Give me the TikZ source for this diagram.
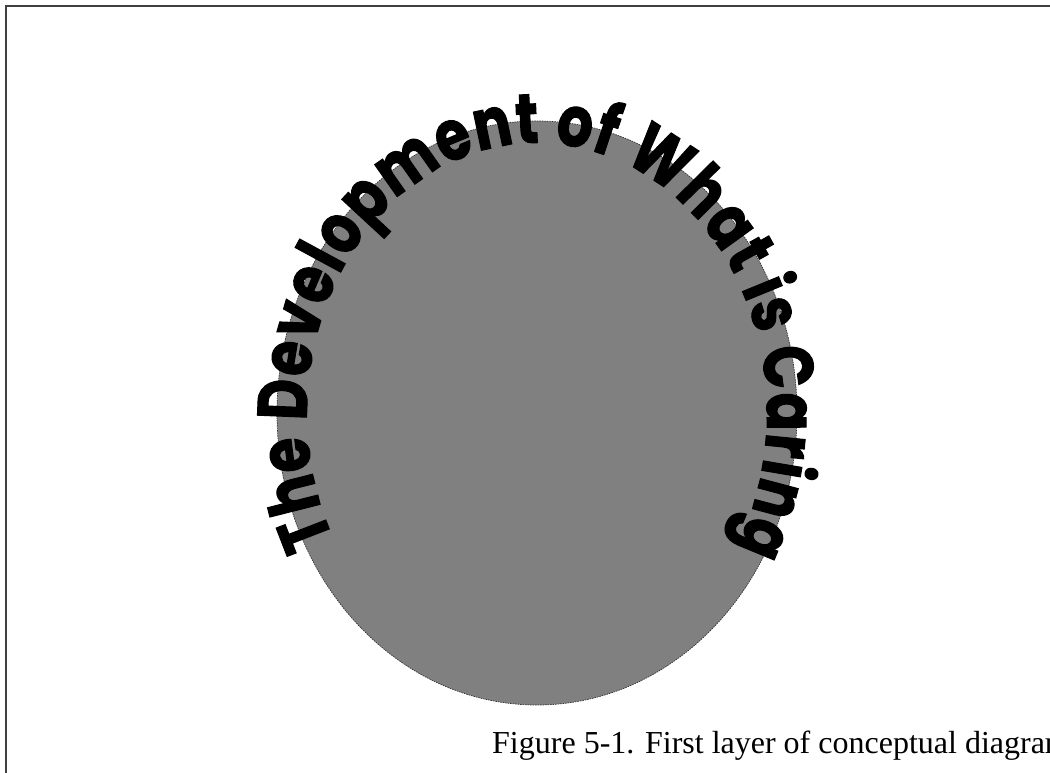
\documentclass[tikz,border=0pt]{standalone}
\usepackage{fontspec}
\usepackage{tikz}
\usetikzlibrary{decorations.text}
\newfontfamily\arcfont[FakeStretch=0.8,BoldFeatures={FakeBold=1.5}]{Poppins}
\newfontfamily\capfont{Liberation Serif}

\begin{document}
\begin{tikzpicture}[x=1pt,y=1pt,
  frame/.style={draw=black!75,line width=2pt},
  blob/.style={fill=black!50,draw=black!80,line width=0.7pt,dash pattern=on 1.5pt off 1pt}]
  \useasboundingbox (0,0) rectangle (1050,772);
  \draw[frame] (6,-20) -- (6,766) -- (1070,766);
  \path[blob] (537,359) ellipse [x radius=260, y radius=292];
  \path[decorate,decoration={text along path,
      text={|\arcfont\bfseries\fontsize{70}{70}\selectfont|The Development of What is Caring},
      text align=fit to path}]
    (537,359) ++(208:230 and 270) arc[start angle=208, end angle=-30, x radius=230, y radius=270];
  \node[anchor=base west,inner sep=0pt,font=\capfont\fontsize{32}{32}\selectfont] (caption) at (492,19) {Figure 5-1. First layer of conceptual diagram};
\end{tikzpicture}
\end{document}
